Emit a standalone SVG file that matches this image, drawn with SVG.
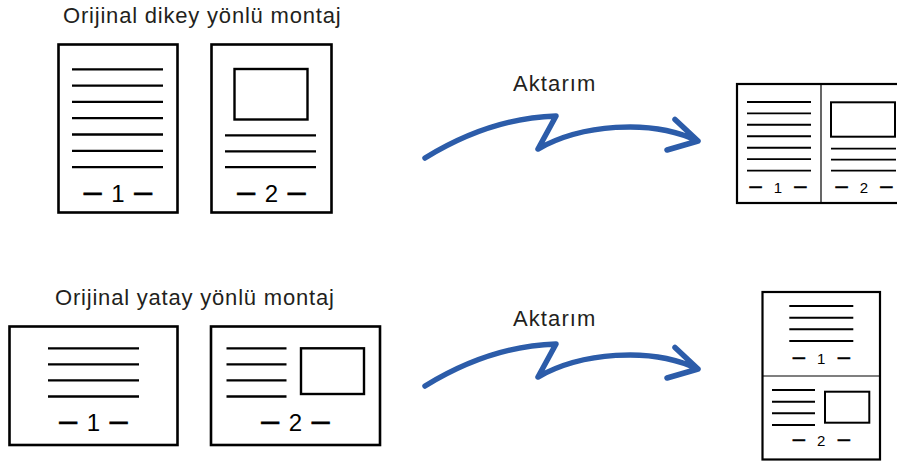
<svg xmlns="http://www.w3.org/2000/svg" width="897" height="463" viewBox="0 0 897 463">
<style>
.title{font-family:"Liberation Sans",Arial,sans-serif;font-size:22px;fill:#231f20;letter-spacing:0.8px}
.lbl{font-family:"Liberation Sans",Arial,sans-serif;font-size:24px;fill:#000;text-anchor:middle;word-spacing:3px}
.lbl .d{font-size:32px;stroke:#000;stroke-width:0.7}
.slbl{font-family:"Liberation Sans",Arial,sans-serif;font-size:15px;fill:#000;text-anchor:middle;word-spacing:8px}
.slbl .d{font-size:22px;stroke:#000;stroke-width:0.5}
.page{fill:#fff;stroke:#000;stroke-width:2.6}
.spage{fill:#fff;stroke:#000;stroke-width:2.2}
.ln{stroke:#000;stroke-width:2.3}
.sln{stroke:#000;stroke-width:1.9}
.div{stroke:#000;stroke-width:1.2}
.pic{fill:#fff;stroke:#000;stroke-width:2.4}
.spic{fill:#fff;stroke:#000;stroke-width:2}
.arrow{fill:none;stroke:#2c5ca9;stroke-width:5.5;stroke-linecap:round;stroke-linejoin:round}
</style>
<defs>
<path id="arw" d="M425,158 Q490,118 556,116 L538,149 C580,125 650,118 698,141 M675,119.5 L698,141 L667,150"/>
</defs>
<rect width="897" height="463" fill="#fff"/>

<g id="title-portrait"><text class="title" x="63" y="22.5">Orijinal dikey yönlü montaj</text></g>
<g id="title-landscape"><text class="title" x="55" y="305">Orijinal yatay yönlü montaj</text></g>

<g id="portrait-page-1">
<rect class="page" x="58.5" y="44.5" width="119" height="168"/>
<path class="ln" d="M72,69.3H163M72,85.6H163M72,101.9H163M72,118.2H163M72,134.5H163M72,150.8H163M72,167.1H163"/>
<text class="lbl" x="118" y="201.7"><tspan class="d">–</tspan> 1 <tspan class="d">–</tspan></text>
</g>
<g id="portrait-page-2">
<rect class="page" x="211.5" y="44.5" width="120" height="168"/>
<rect class="pic" x="234.5" y="69" width="73" height="50.5"/>
<path class="ln" d="M225,135.3H316M225,151.3H316M225,167.1H316"/>
<text class="lbl" x="271.5" y="201.7"><tspan class="d">–</tspan> 2 <tspan class="d">–</tspan></text>
</g>

<g id="landscape-page-1">
<rect class="page" x="9.5" y="326.5" width="168" height="118.5"/>
<path class="ln" d="M48,348.3H139M48,364.3H139M48,380.3H139M48,396.5H139"/>
<text class="lbl" x="93.5" y="430.7"><tspan class="d">–</tspan> 1 <tspan class="d">–</tspan></text>
</g>
<g id="landscape-page-2">
<rect class="page" x="211" y="326.5" width="169" height="118.5"/>
<path class="ln" d="M226.5,348.3H286.5M226.5,364.3H286.5M226.5,380.3H286.5M226.5,396.5H286.5"/>
<rect class="pic" x="301" y="348.3" width="63" height="45.7"/>
<text class="lbl" x="295.5" y="430.7"><tspan class="d">–</tspan> 2 <tspan class="d">–</tspan></text>
</g>

<g id="connectors">
<use href="#arw" class="arrow"/>
<use href="#arw" class="arrow" transform="translate(0,228)"/>
<text class="title" x="513" y="90.7" style="letter-spacing:1.1px">Aktarım</text>
<text class="title" x="513" y="325.7" style="letter-spacing:1.1px">Aktarım</text>
</g>

<g id="result-portrait">
<rect class="spage" x="737" y="84" width="170" height="119"/>
<line class="div" x1="821" y1="84" x2="821" y2="203"/>
<path class="sln" d="M747,102H811M747,113.4H811M747,124.8H811M747,136.2H811M747,147.7H811M747,159.1H811M747,170.6H811"/>
<text class="slbl" x="778" y="193.3"><tspan class="d">–</tspan> 1 <tspan class="d">–</tspan></text>
<rect class="spic" x="831" y="102.3" width="64" height="34.4"/>
<path class="sln" d="M831,148.6H896M831,159.6H896M831,170.6H896"/>
<text class="slbl" x="864" y="193.3"><tspan class="d">–</tspan> 2 <tspan class="d">–</tspan></text>
</g>

<g id="result-landscape">
<rect class="spage" x="762.5" y="292" width="117.5" height="167.5"/>
<line class="div" x1="762.5" y1="376" x2="880" y2="376"/>
<path class="sln" d="M789.3,306H853.3M789.3,317.7H853.3M789.3,329.3H853.3M789.3,341H853.3"/>
<text class="slbl" x="821.3" y="364.3"><tspan class="d">–</tspan> 1 <tspan class="d">–</tspan></text>
<path class="sln" d="M772,390H815M772,401.7H815M772,413.3H815M772,425H815"/>
<rect class="spic" x="825" y="391.7" width="44.3" height="31"/>
<text class="slbl" x="821.3" y="446"><tspan class="d">–</tspan> 2 <tspan class="d">–</tspan></text>
</g>
</svg>
